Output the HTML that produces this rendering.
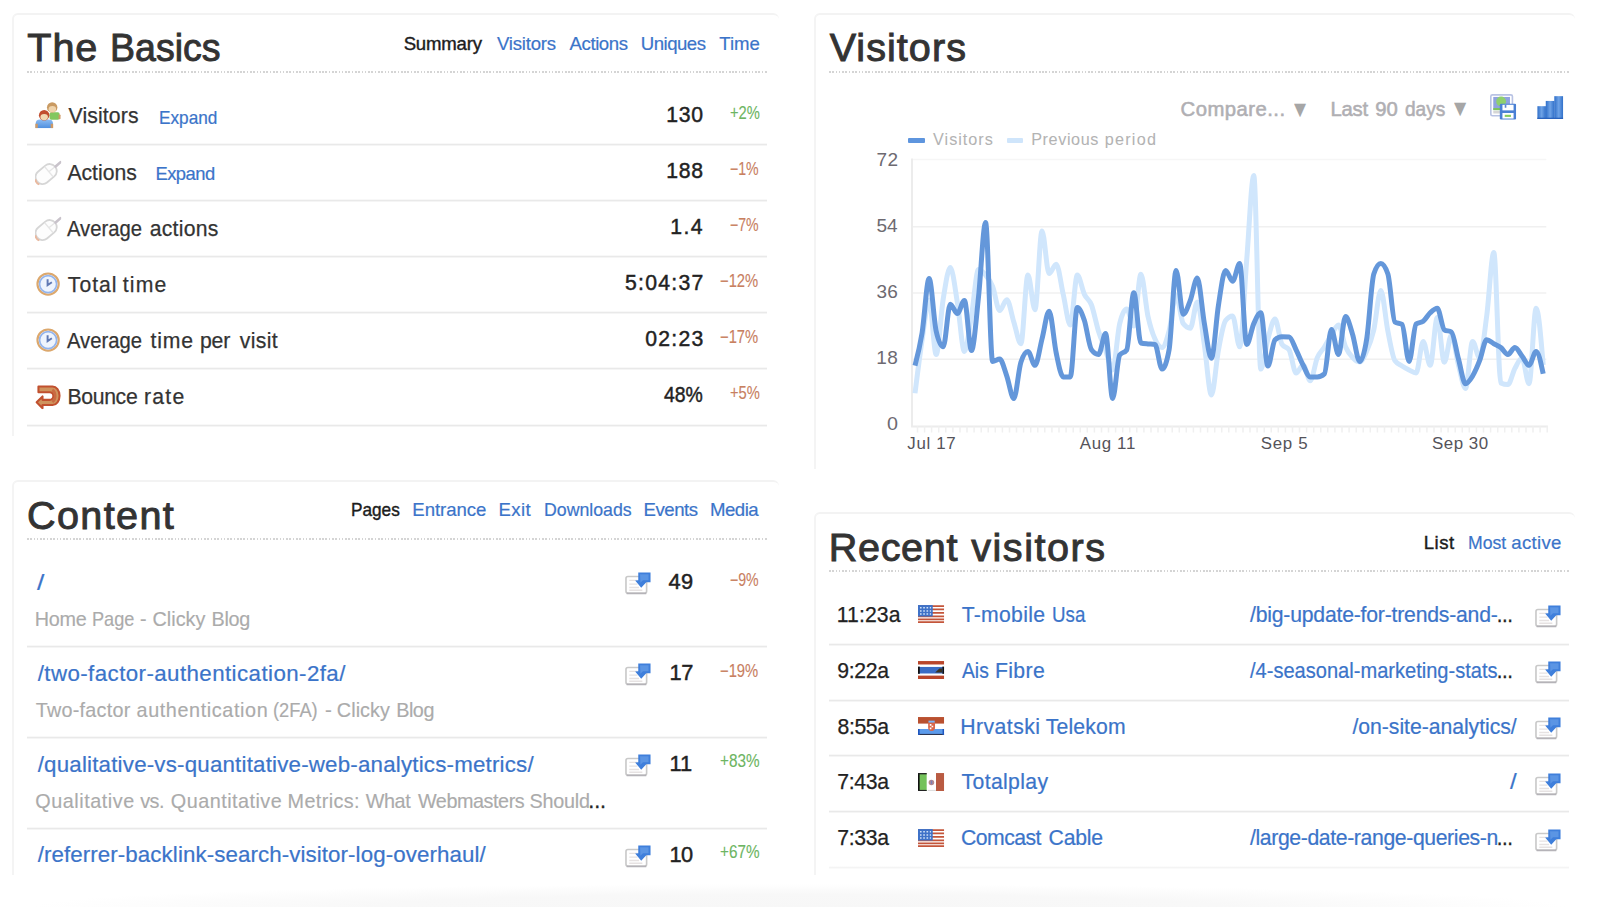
<!DOCTYPE html>
<html lang="en"><head><meta charset="utf-8"><title>Clicky dashboard</title>
<style>
*{box-sizing:content-box}
html,body{margin:0;padding:0}
body{width:1600px;height:907px;overflow:hidden;background:#fff;font-family:"Liberation Sans",Arial,sans-serif;position:relative;-webkit-font-smoothing:antialiased}
#foot{position:absolute;left:0;top:884px;width:1600px;height:23px;background:radial-gradient(ellipse 48% 100% at 50% 100%,#f7f7f7 0,#f8f8f8 55%,#fff 100%)}
.card{position:absolute;border-top:2px solid #f3f3f3;border-left:2px solid #f4f4f4;border-radius:6px 6px 0 0;background:#fff;margin:0}
.card>*,.card header>*,.card nav>*,.card ul,.card li,.card li>*,.card .chart>*,.card .ctl>*{position:absolute;margin:0;padding:0}
.card header,.card nav,.card ul,.card li,.card .chart,.card .ctl,.card .legend{left:0;top:0;width:0;height:0;list-style:none}
.card .legend>*,.card .axis>*{position:absolute;margin:0}
.card .axis{position:absolute;left:0;top:0}
.t{position:absolute;white-space:pre;line-height:1;font-weight:400;text-decoration:none;transform-origin:0 0;display:block;margin:0}
.g{position:absolute;left:0;top:0;width:0;height:0;margin:0;font-size:0;font-weight:400;text-decoration:none}
.dot{height:2px;background:repeating-linear-gradient(90deg,#cdcdcd 0 1.6px,rgba(255,255,255,0) 1.6px 3.28px);opacity:.85}
.sep{height:3px;background:linear-gradient(#f8f8f8 0 33%,#e9e9e9 33% 67%,#f5f5f5 67%)}
.sep.last{opacity:.5}
.ic{position:absolute;overflow:visible}
.sw{height:5.5px;border-radius:1px}
</style></head><body>

<svg width="0" height="0" style="position:absolute" aria-hidden="true"><defs>
<linearGradient id="gBlue" x1="0" y1="0" x2="0" y2="1"><stop offset="0" stop-color="#8dbcf2"/><stop offset="1" stop-color="#4f8fdf"/></linearGradient>
<linearGradient id="gBar" x1="0" y1="0" x2="1" y2="0"><stop offset="0" stop-color="#2f6fc9"/><stop offset=".5" stop-color="#6fa3e6"/><stop offset="1" stop-color="#2f6fc9"/></linearGradient>
<symbol id="i-users" viewBox="0 0 16 16">
 <rect x="8.9" y="6.2" width="6.1" height="4.6" rx="1" fill="#82c75f"/>
 <rect x="14.4" y="7.6" width="1.2" height="3" rx=".5" fill="#cf9a66"/>
 <circle cx="10.5" cy="3.3" r="3.2" fill="#c99a62"/>
 <ellipse cx="10.6" cy="4.4" rx="2.3" ry="1.9" fill="#efd3ab"/>
 <path d="M.4 16v-2.6q0-2.7 2.6-2.7h5.4q2.6 0 2.6 2.7V16z" fill="url(#gBlue)"/>
 <rect x=".2" y="13.3" width="1.5" height="2.7" fill="#cf9a66"/><rect x="9.6" y="13.3" width="1.5" height="2.7" fill="#cf9a66"/>
 <circle cx="5.6" cy="8.1" r="3.2" fill="#c14e2f"/>
 <ellipse cx="5.6" cy="9.2" rx="2.3" ry="1.9" fill="#f1d9b3"/>
</symbol>
<symbol id="i-mouse" viewBox="0 0 16 16">
 <g transform="rotate(-40 6.8 9.2)"><rect x="-.3" y="4.9" width="14.2" height="8.6" rx="4.2" fill="#fdfdfd" stroke="#d6d6d6" stroke-width="1.1"/><path d="M9 5.2v8M9 9.2h4.6" stroke="#e6e6e6" stroke-width=".8" fill="none"/></g>
 <path d="M12.6 4.6l3-2.7" stroke="#c9c3cb" stroke-width="1.6" stroke-linecap="round"/>
 <path d="M.2 12.4q.3 2.2 2.4 3.2" stroke="#e9b9a0" stroke-width="1.2" fill="none"/>
</symbol>
<symbol id="i-clock" viewBox="0 0 16 16">
 <circle cx="8" cy="8" r="6.5" fill="#eef4fd" stroke="#dca86d" stroke-width="1.3"/>
 <circle cx="8" cy="8" r="5.2" fill="none" stroke="#93b4ec" stroke-width="1"/>
 <path d="M7.7 5v3.6l2.6-1.7" stroke="#6079b4" stroke-width="1.2" fill="none"/>
</symbol>
<symbol id="i-bounce" viewBox="0 0 16 16">
 <path d="M2.1 2.1h8.6a4.3 5.7 0 0 1 0 11.4H4.6v1.9L1 11.8l3.6-3.6v2.1h4.3a2.3 2.35 0 0 0 0-4.7H2.1z" fill="#cf935d" stroke="#c1502f" stroke-width="1.25" stroke-linejoin="round"/>
 <path d="M10.6 4.2a3.3 4.2 0 0 1 0 7.4" fill="none" stroke="#c96a42" stroke-width="1.6"/>
</symbol>
<symbol id="i-page" viewBox="0 0 16 16">
 <rect x=".6" y="4.6" width="12.6" height="10.2" rx="1.2" fill="#fff" stroke="#c9c9c9" stroke-width="1"/>
 <path d="M1 14.9h12" stroke="#b5b3b8" stroke-width="1"/>
 <path d="M2.6 7h5M2.6 9.2h5M2.6 11.3h6M2.6 13h8" stroke="#e6e2e2" stroke-width=".8"/>
 <path d="M8.1 2.1h7.5v6h-2.6L9.9 11.4 6.2 7.1l1.9-.2z" fill="#3f7fdb"/>
 <path d="M9.2 3.2h5.2v3.6H11l-1.6 1.6z" fill="#6ea3ea" opacity=".6"/>
</symbol>
<symbol id="f-us" viewBox="0 0 16 11">
 <rect width="16" height="11" fill="#fff"/>
 <path d="M0 .6h16M0 2.7h16M0 4.8h16M0 6.9h16M0 8.7h16M0 10.4h16" stroke="#c4553a" stroke-width="1.1"/>
 <rect width="9" height="7" fill="#3f72c8"/>
 <path d="M1.2 1.6h6.8M1.2 3.6h6.8M1.2 5.5h6.8" stroke="#cfe0f6" stroke-width=".9" stroke-dasharray="1 1"/>
</symbol>
<symbol id="f-th" viewBox="0 0 16 11">
 <rect width="16" height="11" fill="#fff"/>
 <rect width="16" height="2.1" fill="#b9462b"/><rect y="8.9" width="16" height="2.1" fill="#b9462b"/>
 <rect y="3.6" width="16" height="4" fill="#3a6cc4"/>
 <rect y="3.4" width="1.1" height="4.4" fill="#111"/><rect x="14.9" y="3.4" width="1.1" height="4.4" fill="#111"/>
 <path d="M10.5 7l2.6-2.4h1.6V7z" fill="#3a3320"/>
</symbol>
<symbol id="f-hr" viewBox="0 0 16 11">
 <rect width="16" height="11" fill="#fff"/>
 <rect width="16" height="4" fill="#b9502f"/>
 <rect y="7.3" width="16" height="3.7" fill="#5b9aea"/>
 <rect y="10.3" width="16" height=".7" fill="#2b3550"/>
 <rect y="7.3" width="1" height="3.7" fill="#1f57c0"/><rect x="15" y="7.3" width="1" height="3.7" fill="#1f57c0"/>
 <path d="M6.2 3.4h4.2v3.3q0 1.5-2.1 1.9-2.1-.4-2.1-1.9z" fill="#d9664a"/>
 <rect x="6.4" y="2.2" width="3.8" height="1.2" fill="#7db4f5"/>
 <path d="M7.2 4.3h1v1h-1zM8.3 5.3h1v1h-1zM7.2 6.4h1v1h-1z" fill="#fff"/>
</symbol>
<symbol id="f-mx" viewBox="0 0 16 11">
 <rect width="16" height="11" fill="#fff"/>
 <rect width="5.3" height="11" fill="#74c25a"/>
 <rect width="1" height="11" fill="#111"/><rect width="5.3" height=".8" fill="#222"/><rect y="10.3" width="5.3" height=".7" fill="#222"/>
 <rect x="11" width="5" height="11" fill="#b95b42"/>
 <rect x="6" y="10.3" width="5" height=".7" fill="#ddd"/>
 <circle cx="8.2" cy="5.8" r="1.7" fill="#b58a8f"/>
 <rect x="7.8" y="4.6" width=".9" height="2.2" fill="#7a7fb8"/>
</symbol>
<symbol id="i-save" viewBox="0 0 16 16">
 <rect x=".5" y=".5" width="13.2" height="12.8" rx="1" fill="#fff" stroke="#b9c3e4" stroke-width="1"/>
 <rect x="2" y="1.8" width="10.2" height="8" fill="#8fa3df"/>
 <circle cx="6.8" cy="4.6" r="3" fill="#8fd06e"/>
 <rect x="2" y="8.6" width="10.2" height="1.3" fill="#7cc45a"/>
 <rect x="2" y="10.3" width="10.2" height="1.6" fill="#d6d6d6"/>
 <rect x="6" y="6" width="10" height="9.6" rx=".8" fill="#4a80d4"/>
 <rect x="7.6" y="6.6" width="6.8" height="3.4" fill="#fff"/>
 <rect x="9" y="6.6" width="1" height="1.8" fill="#5d86d0"/>
 <rect x="7.6" y="11.6" width="6.8" height="3.4" fill="#fff"/>
 <rect x="9" y="12.7" width="3.8" height="1.3" fill="#86cc5d"/>
</symbol>
<symbol id="i-bars" viewBox="0 0 16 14">
 <rect x=".2" y="6.2" width="5.2" height="7.8" fill="url(#gBar)"/>
 <rect x="5.3" y="3" width="5.3" height="11" fill="url(#gBar)"/>
 <rect x="10.5" y=".1" width="5.4" height="13.9" fill="url(#gBar)"/>
 <rect x=".2" y="13.2" width="15.7" height=".9" fill="#2a63bd"/>
</symbol>
</defs></svg>
<main>
<section class="card" id="basics" style="left:12px;top:13px;width:765px;height:421px">
<header><h2 class="g title"><span class="t w" style="left:13.37px;top:13.30px;font-size:39.6px;color:#333;letter-spacing:0.899px;-webkit-text-stroke-width:0.95px;">The</span> <span class="t w" style="left:95.63px;top:13.30px;font-size:39.6px;color:#333;transform:scaleX(0.9486);-webkit-text-stroke-width:0.95px;">Basics</span></h2><nav><b class="t tab on" style="left:389.63px;top:19.60px;font-size:18.6px;color:#1c1c1c;letter-spacing:-0.188px;-webkit-text-stroke-width:0.4px;">Summary</b><a class="t tab" href="#" style="left:482.96px;top:19.60px;font-size:18.6px;color:#3b74c9;letter-spacing:-0.206px;-webkit-text-stroke-width:0.2px;">Visitors</a><a class="t tab" href="#" style="left:555.56px;top:19.60px;font-size:18.6px;color:#3b74c9;letter-spacing:-0.425px;-webkit-text-stroke-width:0.2px;">Actions</a><a class="t tab" href="#" style="left:626.75px;top:19.60px;font-size:18.6px;color:#3b74c9;letter-spacing:-0.502px;-webkit-text-stroke-width:0.2px;">Uniques</a><a class="t tab" href="#" style="left:705.27px;top:19.60px;font-size:18.6px;color:#3b74c9;letter-spacing:-0.021px;-webkit-text-stroke-width:0.2px;">Time</a></nav></header>
<div class="dot" style="left:13.0px;top:56.0px;width:740.5px"></div>
<ul>
<li><svg class="ic" style="left:21.3px;top:87.4px;width:26.2px;height:26.2px" viewBox="0 0 16 16"><use href="#i-users"/></svg><span class="t lab" style="left:54.62px;top:90.40px;font-size:21.2px;color:#333;letter-spacing:0.112px;-webkit-text-stroke-width:0.25px;">Visitors</span><a class="t exp" href="#" style="left:144.68px;top:93.80px;font-size:18.4px;color:#3b74c9;transform:scaleX(0.9359);-webkit-text-stroke-width:0.2px;">Expand</a><span class="t num" style="left:652.31px;top:88.80px;font-size:21.2px;color:#222;letter-spacing:0.657px;-webkit-text-stroke-width:0.45px;">130</span><span class="t pct" style="left:715.68px;top:88.90px;font-size:18px;color:#6db562;transform:scaleX(0.8187);-webkit-text-stroke-width:0.12px;">+2%</span><div class="sep" style="left:13.0px;top:128.0px;width:740.0px"></div></li>
<li><svg class="ic" style="left:21.3px;top:143.5px;width:26.2px;height:26.2px" viewBox="0 0 16 16"><use href="#i-mouse"/></svg><span class="t lab" style="left:53.44px;top:146.50px;font-size:21.2px;color:#333;letter-spacing:-0.031px;-webkit-text-stroke-width:0.25px;">Actions</span><a class="t exp" href="#" style="left:141.42px;top:149.90px;font-size:18.4px;color:#3b74c9;letter-spacing:-0.499px;-webkit-text-stroke-width:0.2px;">Expand</a><span class="t num" style="left:652.31px;top:144.90px;font-size:21.2px;color:#222;letter-spacing:0.670px;-webkit-text-stroke-width:0.45px;">188</span><span class="t pct" style="left:715.61px;top:145.00px;font-size:18px;color:#c8805f;transform:scaleX(0.7856);-webkit-text-stroke-width:0.12px;">−1%</span><div class="sep" style="left:13.0px;top:184.1px;width:740.0px"></div></li>
<li><svg class="ic" style="left:21.3px;top:199.6px;width:26.2px;height:26.2px" viewBox="0 0 16 16"><use href="#i-mouse"/></svg><span class="g lab"><span class="t w" style="left:53.44px;top:202.60px;font-size:21.2px;color:#333;transform:scaleX(0.9545);-webkit-text-stroke-width:0.25px;">Average</span> <span class="t w" style="left:135.67px;top:202.60px;font-size:21.2px;color:#333;letter-spacing:0.272px;-webkit-text-stroke-width:0.25px;">actions</span></span><span class="t num" style="left:656.31px;top:201.00px;font-size:21.2px;color:#222;letter-spacing:1.452px;-webkit-text-stroke-width:0.45px;">1.4</span><span class="t pct" style="left:715.61px;top:201.10px;font-size:18px;color:#c8805f;transform:scaleX(0.7856);-webkit-text-stroke-width:0.12px;">−7%</span><div class="sep" style="left:13.0px;top:240.2px;width:740.0px"></div></li>
<li><svg class="ic" style="left:21.3px;top:255.7px;width:26.2px;height:26.2px" viewBox="0 0 16 16"><use href="#i-clock"/></svg><span class="g lab"><span class="t w" style="left:53.86px;top:258.70px;font-size:21.2px;color:#333;letter-spacing:0.983px;-webkit-text-stroke-width:0.25px;">Total</span> <span class="t w" style="left:108.86px;top:258.70px;font-size:21.2px;color:#333;letter-spacing:1.091px;-webkit-text-stroke-width:0.25px;">time</span></span><span class="t num" style="left:610.89px;top:257.10px;font-size:21.2px;color:#222;letter-spacing:1.293px;-webkit-text-stroke-width:0.45px;">5:04:37</span><span class="t pct" style="left:706.01px;top:257.20px;font-size:18px;color:#c8805f;transform:scaleX(0.8222);-webkit-text-stroke-width:0.12px;">−12%</span><div class="sep" style="left:13.0px;top:296.3px;width:740.0px"></div></li>
<li><svg class="ic" style="left:21.3px;top:311.8px;width:26.2px;height:26.2px" viewBox="0 0 16 16"><use href="#i-clock"/></svg><span class="g lab"><span class="t w" style="left:53.44px;top:314.80px;font-size:21.2px;color:#333;transform:scaleX(0.9545);-webkit-text-stroke-width:0.25px;">Average</span> <span class="t w" style="left:136.38px;top:314.80px;font-size:21.2px;color:#333;letter-spacing:0.916px;-webkit-text-stroke-width:0.25px;">time</span> <span class="t w" style="left:185.93px;top:314.80px;font-size:21.2px;color:#333;letter-spacing:-0.164px;-webkit-text-stroke-width:0.25px;">per</span> <span class="t w" style="left:225.76px;top:314.80px;font-size:21.2px;color:#333;letter-spacing:0.359px;-webkit-text-stroke-width:0.25px;">visit</span></span><span class="t num" style="left:631.26px;top:313.20px;font-size:21.2px;color:#222;letter-spacing:1.233px;-webkit-text-stroke-width:0.45px;">02:23</span><span class="t pct" style="left:706.01px;top:313.30px;font-size:18px;color:#c8805f;transform:scaleX(0.8222);-webkit-text-stroke-width:0.12px;">−17%</span><div class="sep" style="left:13.0px;top:352.4px;width:740.0px"></div></li>
<li><svg class="ic" style="left:21.3px;top:367.9px;width:26.2px;height:26.2px" viewBox="0 0 16 16"><use href="#i-bounce"/></svg><span class="g lab"><span class="t w" style="left:53.42px;top:370.90px;font-size:21.2px;color:#333;letter-spacing:-0.317px;-webkit-text-stroke-width:0.25px;">Bounce</span> <span class="t w" style="left:129.89px;top:370.90px;font-size:21.2px;color:#333;letter-spacing:1.309px;-webkit-text-stroke-width:0.25px;">rate</span></span><span class="t num" style="left:649.92px;top:369.30px;font-size:21.2px;color:#222;transform:scaleX(0.9171);-webkit-text-stroke-width:0.45px;">48%</span><span class="t pct" style="left:715.68px;top:369.40px;font-size:18px;color:#c8805f;transform:scaleX(0.8187);-webkit-text-stroke-width:0.12px;">+5%</span><div class="sep" style="left:13.0px;top:408.5px;width:740.0px"></div></li>
</ul></section>
<section class="card" id="visitors" style="left:814px;top:13px;width:759px;height:454px">
<header><h2 class="t title" style="left:13.64px;top:13.30px;font-size:39.6px;color:#333;letter-spacing:1.038px;-webkit-text-stroke-width:0.95px;">Visitors</h2></header>
<div class="dot" style="left:13.0px;top:56.0px;width:740.5px"></div>
<div class="ctl"><span class="t ctl" style="left:364.61px;top:83.80px;font-size:20.3px;color:#b0afb3;letter-spacing:0.463px;-webkit-text-stroke-width:0.55px;">Compare...</span><span class="t tri" style="left:478.36px;top:86.00px;font-size:17.5px;color:#a6a6a6;transform:scaleX(0.8943);font-family:'DejaVu Sans','Liberation Sans',sans-serif;">▼</span><span class="g ctl"><span class="t w" style="left:514.51px;top:83.80px;font-size:20.3px;color:#b0afb3;letter-spacing:-0.269px;-webkit-text-stroke-width:0.55px;">Last</span> <span class="t w" style="left:559.32px;top:83.80px;font-size:20.3px;color:#b0afb3;letter-spacing:-0.209px;-webkit-text-stroke-width:0.55px;">90</span> <span class="t w" style="left:588.71px;top:83.80px;font-size:20.3px;color:#b0afb3;transform:scaleX(0.9411);-webkit-text-stroke-width:0.55px;">days</span></span><span class="t tri" style="left:637.52px;top:85.00px;font-size:17.5px;color:#a6a6a6;transform:scaleX(0.9087);font-family:'DejaVu Sans','Liberation Sans',sans-serif;">▼</span><svg class="ic" style="left:674.4px;top:79.2px;width:26.2px;height:26.2px" viewBox="0 0 16 16"><use href="#i-save"/></svg><svg class="ic" style="left:720.6px;top:80.8px;width:26.4px;height:23.0px" viewBox="0 0 16 14"><use href="#i-bars"/></svg></div>
<div class="legend"><i class="sw" style="left:92.0px;top:122.5px;width:16.5px;background:#5e95de"></i><span class="t leg" style="left:117.12px;top:116.10px;font-size:16.2px;color:#b3b3b3;letter-spacing:0.986px;-webkit-text-stroke-width:0.05px;">Visitors</span><i class="sw" style="left:191.0px;top:122.5px;width:15.5px;background:#cfe5fb"></i><span class="g leg"><span class="t w" style="left:215.19px;top:116.10px;font-size:16.2px;color:#b3b3b3;letter-spacing:0.609px;-webkit-text-stroke-width:0.05px;">Previous</span> <span class="t w" style="left:288.71px;top:116.10px;font-size:16.2px;color:#b3b3b3;letter-spacing:1.236px;-webkit-text-stroke-width:0.05px;">period</span></span></div>
<div class="chart"><svg class="ic" style="left:54px;top:135px;width:700px;height:300px" viewBox="0 0 700 300"><path d="M42.0 9.60H676.3" stroke="#f6f6f6" stroke-width="1.5"/><path d="M42.0 76.80H676.3" stroke="#f0f0f0" stroke-width="1.5"/><path d="M42.0 143.00H676.3" stroke="#f0f0f0" stroke-width="1.5"/><path d="M42.0 209.30H676.3" stroke="#f0f0f0" stroke-width="1.5"/><path d="M42.0 8.50V276.55H677.9" stroke="#ececec" stroke-width="1.9" fill="none"/><path d="M47.5 276.2v6.2M54.6 276.2v6.2M61.6 276.2v6.2M68.7 276.2v6.2M75.8 276.2v6.2M82.9 276.2v6.2M90.0 276.2v6.2M97.0 276.2v6.2M104.1 276.2v6.2M111.2 276.2v6.2M118.2 276.2v6.2M125.3 276.2v6.2M132.4 276.2v6.2M139.5 276.2v6.2M146.5 276.2v6.2M153.6 276.2v6.2M160.7 276.2v6.2M167.8 276.2v6.2M174.8 276.2v6.2M181.9 276.2v6.2M189.0 276.2v6.2M196.1 276.2v6.2M203.2 276.2v6.2M210.2 276.2v6.2M217.3 276.2v6.2M224.4 276.2v6.2M231.5 276.2v6.2M238.5 276.2v6.2M245.6 276.2v6.2M252.7 276.2v6.2M259.8 276.2v6.2M266.8 276.2v6.2M273.9 276.2v6.2M281.0 276.2v6.2M288.0 276.2v6.2M295.1 276.2v6.2M302.2 276.2v6.2M309.3 276.2v6.2M316.3 276.2v6.2M323.4 276.2v6.2M330.5 276.2v6.2M337.6 276.2v6.2M344.7 276.2v6.2M351.7 276.2v6.2M358.8 276.2v6.2M365.9 276.2v6.2M373.0 276.2v6.2M380.0 276.2v6.2M387.1 276.2v6.2M394.2 276.2v6.2M401.2 276.2v6.2M408.3 276.2v6.2M415.4 276.2v6.2M422.5 276.2v6.2M429.5 276.2v6.2M436.6 276.2v6.2M443.7 276.2v6.2M450.8 276.2v6.2M457.8 276.2v6.2M464.9 276.2v6.2M472.0 276.2v6.2M479.1 276.2v6.2M486.2 276.2v6.2M493.2 276.2v6.2M500.3 276.2v6.2M507.4 276.2v6.2M514.5 276.2v6.2M521.5 276.2v6.2M528.6 276.2v6.2M535.7 276.2v6.2M542.8 276.2v6.2M549.8 276.2v6.2M556.9 276.2v6.2M564.0 276.2v6.2M571.1 276.2v6.2M578.1 276.2v6.2M585.2 276.2v6.2M592.3 276.2v6.2M599.3 276.2v6.2M606.4 276.2v6.2M613.5 276.2v6.2M620.6 276.2v6.2M627.7 276.2v6.2M634.7 276.2v6.2M641.8 276.2v6.2M648.9 276.2v6.2M656.0 276.2v6.2M663.0 276.2v6.2M670.1 276.2v6.2M677.2 276.2v6.2" stroke="#f0f0f0" stroke-width="1.5"/><path d="M45.0,243.3C47.4,224.4 49.7,205.6 52.1,190.0C54.4,174.4 56.8,150.0 59.1,150.0C61.5,150.0 63.8,204.5 66.2,204.5C68.5,204.5 70.9,163.5 73.2,149.0C75.6,134.5 77.9,117.5 80.3,117.5C82.6,117.5 85.0,138.0 87.3,152.0C89.7,166.0 92.1,201.4 94.4,201.4C96.8,201.4 99.1,179.5 101.5,165.9C103.8,152.2 106.2,119.5 108.5,119.5C110.9,119.5 113.2,122.2 115.6,125.0C117.9,127.8 120.3,130.6 122.6,136.5C125.0,142.4 127.3,160.5 129.7,160.5C132.0,160.5 134.4,149.7 136.8,149.7C139.1,149.7 141.5,164.7 143.8,172.0C146.2,179.3 148.5,193.7 150.9,193.7C153.2,193.7 155.6,125.0 157.9,125.0C160.3,125.0 162.6,159.7 165.0,159.7C167.3,159.7 169.7,81.0 172.0,81.0C174.4,81.0 176.7,123.5 179.1,123.5C181.5,123.5 183.8,114.2 186.2,114.2C188.5,114.2 190.9,134.1 193.2,144.3C195.6,154.5 197.9,175.1 200.3,175.1C202.6,175.1 205.0,125.0 207.3,125.0C209.7,125.0 212.0,139.3 214.4,144.3C216.7,149.3 219.1,148.8 221.5,155.0C223.8,161.2 226.2,173.8 228.5,181.3C230.9,188.8 233.2,193.6 235.6,200.0C237.9,206.4 240.3,220.0 242.6,220.0C245.0,220.0 247.3,183.3 249.7,173.6C252.0,163.9 254.4,159.0 256.7,159.0C259.1,159.0 261.4,176.0 263.8,176.0C266.2,176.0 268.5,124.3 270.9,124.3C273.2,124.3 275.6,155.1 277.9,165.9C280.3,176.7 282.6,183.7 285.0,189.0C287.3,194.3 289.7,197.5 292.0,197.5C294.4,197.5 296.7,189.8 299.1,181.0C301.4,172.2 303.8,145.0 306.1,145.0C308.5,145.0 310.9,170.5 313.2,173.6C315.6,176.7 317.9,178.2 320.3,178.2C322.6,178.2 325.0,152.0 327.3,152.0C329.7,152.0 332.0,179.5 334.4,195.0C336.7,210.5 339.1,245.0 341.4,245.0C343.8,245.0 346.1,212.2 348.5,199.8C350.8,187.4 353.2,173.6 355.6,170.5C357.9,167.4 360.3,165.9 362.6,165.9C365.0,165.9 367.3,196.8 369.7,196.8C372.0,196.8 374.4,138.6 376.7,110.0C379.1,81.4 381.4,25.5 383.8,25.5C386.1,25.5 388.5,219.1 390.8,219.1C393.2,219.1 395.5,197.4 397.9,189.0C400.3,180.6 402.6,169.0 405.0,169.0C407.3,169.0 409.7,190.8 412.0,194.4C414.4,198.0 416.7,196.2 419.1,199.8C421.4,203.4 423.8,223.0 426.1,223.0C428.5,223.0 430.8,215.0 433.2,215.0C435.5,215.0 437.9,230.7 440.2,230.7C442.6,230.7 445.0,213.2 447.3,207.6C449.7,202.0 452.0,200.8 454.4,197.0C456.7,193.2 459.1,188.7 461.4,185.0C463.8,181.3 466.1,175.0 468.5,175.0C470.8,175.0 473.2,191.4 475.5,196.8C477.9,202.2 480.2,205.1 482.6,207.6C484.9,210.1 487.3,212.0 489.7,212.0C492.0,212.0 494.4,206.4 496.7,201.0C499.1,195.6 501.4,189.9 503.8,179.8C506.1,169.7 508.5,140.4 510.8,140.4C513.2,140.4 515.5,169.6 517.9,181.3C520.2,193.0 522.6,207.2 524.9,210.7C527.3,214.2 529.6,214.4 532.0,216.0C534.4,217.6 536.7,218.8 539.1,220.0C541.4,221.2 543.8,223.0 546.1,223.0C548.5,223.0 550.8,191.4 553.2,191.4C555.5,191.4 557.9,215.3 560.2,215.3C562.6,215.3 564.9,167.4 567.3,167.4C569.6,167.4 572.0,212.2 574.3,212.2C576.7,212.2 579.1,185.0 581.4,185.0C583.8,185.0 586.1,206.1 588.5,215.0C590.8,223.9 593.2,238.4 595.5,238.4C597.9,238.4 600.2,191.4 602.6,191.4C604.9,191.4 607.3,208.0 609.6,208.0C612.0,208.0 614.3,183.6 616.7,166.0C619.1,148.4 621.4,102.4 623.8,102.4C626.1,102.4 628.5,231.9 630.8,233.0C633.2,234.1 635.5,234.6 637.9,234.6C640.2,234.6 642.6,222.8 644.9,218.4C647.3,214.0 649.6,208.0 652.0,208.0C654.3,208.0 656.7,233.8 659.0,233.8C661.4,233.8 663.8,158.2 666.1,158.2C668.5,158.2 670.8,186.6 673.2,215.0" fill="none" stroke="#d0e6fc" stroke-width="5" stroke-linejoin="round" stroke-linecap="butt"/><path d="M45.0,215.7C47.4,206.6 49.7,197.4 52.1,182.9C54.4,168.4 56.8,128.5 59.1,128.5C61.5,128.5 63.8,171.0 66.2,181.3C68.5,191.6 70.9,196.8 73.2,196.8C75.6,196.8 77.9,154.3 80.3,154.3C82.6,154.3 85.0,163.6 87.3,163.6C89.7,163.6 92.1,150.4 94.4,150.4C96.8,150.4 99.1,200.6 101.5,200.6C103.8,200.6 106.2,168.4 108.5,147.0C110.9,125.7 113.2,72.5 115.6,72.5C117.9,72.5 120.3,211.4 122.6,211.4C125.0,211.4 127.3,209.1 129.7,209.1C132.0,209.1 134.4,219.5 136.8,226.1C139.1,232.7 141.5,248.5 143.8,248.5C146.2,248.5 148.5,219.4 150.9,212.2C153.2,205.0 155.6,201.4 157.9,201.4C160.3,201.4 162.6,215.3 165.0,215.3C167.3,215.3 169.7,198.0 172.0,189.0C174.4,180.0 176.7,161.2 179.1,161.2C181.5,161.2 183.8,191.9 186.2,202.9C188.5,213.8 190.9,226.9 193.2,226.9C195.6,226.9 197.9,226.9 200.3,226.9C202.6,226.9 205.0,157.4 207.3,157.4C209.7,157.4 212.0,163.4 214.4,170.5C216.7,177.6 219.1,196.7 221.5,199.8C223.8,202.9 226.2,204.5 228.5,204.5C230.9,204.5 233.2,183.6 235.6,183.6C237.9,183.6 240.3,248.5 242.6,248.5C245.0,248.5 247.3,208.3 249.7,205.0C252.0,201.7 254.4,203.3 256.7,200.0C259.1,196.7 261.4,142.7 263.8,142.7C266.2,142.7 268.5,192.4 270.9,193.0C273.2,193.6 275.6,193.7 277.9,193.9C280.3,194.1 282.6,194.1 285.0,194.4C287.3,194.7 289.7,219.1 292.0,219.1C294.4,219.1 296.7,212.7 299.1,199.8C301.4,186.9 303.8,120.4 306.1,120.4C308.5,120.4 310.9,164.3 313.2,164.3C315.6,164.3 317.9,156.4 320.3,150.4C322.6,144.4 325.0,128.1 327.3,128.1C329.7,128.1 332.0,160.2 334.4,173.6C336.7,187.0 339.1,208.3 341.4,208.3C343.8,208.3 346.1,169.6 348.5,155.0C350.8,140.3 353.2,120.4 355.6,120.4C357.9,120.4 360.3,131.2 362.6,131.2C365.0,131.2 367.3,113.5 369.7,113.5C372.0,113.5 374.4,194.4 376.7,194.4C379.1,194.4 381.4,178.9 383.8,173.6C386.1,168.3 388.5,162.8 390.8,162.8C393.2,162.8 395.5,216.1 397.9,216.1C400.3,216.1 402.6,191.9 405.0,189.8C407.3,187.7 409.7,186.7 412.0,186.7C414.4,186.7 416.7,186.8 419.1,187.0C421.4,187.2 423.8,195.1 426.1,199.8C428.5,204.5 430.8,210.8 433.2,215.3C435.5,219.8 437.9,226.9 440.2,226.9C442.6,226.9 445.0,226.9 447.3,226.9C449.7,226.9 452.0,225.9 454.4,223.8C456.7,221.7 459.1,179.5 461.4,179.5C463.8,179.5 466.1,204.5 468.5,204.5C470.8,204.5 473.2,166.6 475.5,166.6C477.9,166.6 480.2,176.9 482.6,184.4C484.9,191.9 487.3,211.4 489.7,211.4C492.0,211.4 494.4,203.6 496.7,189.0C499.1,174.4 501.4,131.0 503.8,124.0C506.1,117.0 508.5,113.5 510.8,113.5C513.2,113.5 515.5,117.0 517.9,124.0C520.2,131.0 522.6,170.4 524.9,172.0C527.3,173.6 529.6,172.8 532.0,174.4C534.4,176.0 536.7,211.4 539.1,211.4C541.4,211.4 543.8,175.8 546.1,174.0C548.5,172.2 550.8,173.1 553.2,171.3C555.5,169.5 557.9,165.0 560.2,162.8C562.6,160.6 564.9,158.2 567.3,158.2C569.6,158.2 572.0,178.3 574.3,179.8C576.7,181.3 579.1,180.5 581.4,182.0C583.8,183.5 586.1,200.4 588.5,209.0C590.8,217.6 593.2,233.8 595.5,233.8C597.9,233.8 600.2,229.9 602.6,226.0C604.9,222.1 607.3,216.7 609.6,210.7C612.0,204.7 614.3,189.8 616.7,189.8C619.1,189.8 621.4,192.4 623.8,193.7C626.1,195.0 628.5,195.7 630.8,197.5C633.2,199.3 635.5,204.5 637.9,204.5C640.2,204.5 642.6,197.5 644.9,197.5C647.3,197.5 649.6,203.0 652.0,206.0C654.3,209.0 656.7,215.3 659.0,215.3C661.4,215.3 663.8,201.4 666.1,201.4C668.5,201.4 670.8,212.6 673.2,223.8" fill="none" stroke="#6497da" stroke-width="5" stroke-linejoin="round" stroke-linecap="butt"/></svg>
<div class="axis"><span class="t yl" style="left:60.49px;top:135.20px;font-size:19px;color:#6d6a71;letter-spacing:0.355px;">72</span><span class="t yl" style="left:60.49px;top:201.40px;font-size:19px;color:#6d6a71;letter-spacing:0.012px;">54</span><span class="t yl" style="left:60.58px;top:267.40px;font-size:19px;color:#6d6a71;letter-spacing:0.170px;">36</span><span class="t yl" style="left:60.21px;top:333.20px;font-size:19px;color:#6d6a71;letter-spacing:0.552px;">18</span><span class="t yl" style="left:70.61px;top:399.30px;font-size:19px;color:#6d6a71;transform:scaleX(1.0368);">0</span><span class="g xl"><span class="t w" style="left:91.34px;top:420.80px;font-size:16.9px;color:#55535a;letter-spacing:0.605px;">Jul</span> <span class="t w" style="left:120.21px;top:420.80px;font-size:16.9px;color:#55535a;letter-spacing:0.613px;">17</span></span><span class="t xl" style="left:263.86px;top:420.80px;font-size:16.9px;color:#55535a;letter-spacing:0.627px;">Aug 11</span><span class="t xl" style="left:444.83px;top:420.80px;font-size:16.9px;color:#55535a;letter-spacing:0.686px;">Sep 5</span><span class="t xl" style="left:616.00px;top:420.80px;font-size:16.9px;color:#55535a;letter-spacing:0.509px;">Sep 30</span></div></div>
</section>
<section class="card" id="content" style="left:12px;top:480px;width:765px;height:393px">
<header><h2 class="t title" style="left:13.04px;top:13.50px;font-size:39.6px;color:#333;letter-spacing:1.347px;-webkit-text-stroke-width:0.95px;">Content</h2><nav><b class="t tab on" style="left:337.07px;top:19.00px;font-size:18.6px;color:#1c1c1c;transform:scaleX(0.9253);-webkit-text-stroke-width:0.4px;">Pages</b><a class="t tab" href="#" style="left:398.36px;top:19.00px;font-size:18.6px;color:#3b74c9;letter-spacing:-0.049px;-webkit-text-stroke-width:0.2px;">Entrance</a><a class="t tab" href="#" style="left:484.56px;top:19.00px;font-size:18.6px;color:#3b74c9;letter-spacing:0.339px;-webkit-text-stroke-width:0.2px;">Exit</a><a class="t tab" href="#" style="left:529.75px;top:19.00px;font-size:18.6px;color:#3b74c9;transform:scaleX(0.9530);-webkit-text-stroke-width:0.2px;">Downloads</a><a class="t tab" href="#" style="left:629.56px;top:19.00px;font-size:18.6px;color:#3b74c9;letter-spacing:-0.465px;-webkit-text-stroke-width:0.2px;">Events</a><a class="t tab" href="#" style="left:695.95px;top:19.00px;font-size:18.6px;color:#3b74c9;letter-spacing:-0.488px;-webkit-text-stroke-width:0.2px;">Media</a></nav></header>
<div class="dot" style="left:13.0px;top:56.2px;width:740.5px"></div>
<ul>
<li><a class="t url" href="#" style="left:22.98px;top:89.90px;font-size:22.3px;color:#3b74c9;transform:scaleX(1.1879);-webkit-text-stroke-width:0.22px;">/</a><span class="g desc"><span class="t w" style="left:20.75px;top:128.00px;font-size:19.8px;color:#ababab;letter-spacing:-0.290px;-webkit-text-stroke-width:0.15px;">Home</span> <span class="t w" style="left:78.22px;top:128.00px;font-size:19.8px;color:#ababab;transform:scaleX(0.9175);-webkit-text-stroke-width:0.15px;">Page</span> <span class="t w" style="left:125.72px;top:128.00px;font-size:19.8px;color:#ababab;transform:scaleX(0.9928);-webkit-text-stroke-width:0.15px;">-</span> <span class="t w" style="left:138.49px;top:128.00px;font-size:19.8px;color:#ababab;letter-spacing:0.038px;-webkit-text-stroke-width:0.15px;">Clicky</span> <span class="t w" style="left:197.58px;top:128.00px;font-size:19.8px;color:#ababab;letter-spacing:-0.322px;-webkit-text-stroke-width:0.15px;">Blog</span></span><svg class="ic" style="left:611.0px;top:87.4px;width:26.2px;height:26.2px" viewBox="0 0 16 16"><use href="#i-page"/></svg><span class="t num" style="left:654.52px;top:89.20px;font-size:21.8px;color:#222;letter-spacing:0.450px;-webkit-text-stroke-width:0.45px;">49</span><span class="t pct" style="left:715.61px;top:88.80px;font-size:18px;color:#c8805f;transform:scaleX(0.7856);-webkit-text-stroke-width:0.12px;">−9%</span><div class="sep" style="left:13.0px;top:163.0px;width:740.0px"></div></li>
<li><a class="t url" href="#" style="left:23.69px;top:180.70px;font-size:22.3px;color:#3b74c9;letter-spacing:0.423px;-webkit-text-stroke-width:0.22px;">/two-factor-authentication-2fa/</a><span class="g desc"><span class="t w" style="left:21.66px;top:218.80px;font-size:19.8px;color:#ababab;letter-spacing:0.259px;-webkit-text-stroke-width:0.15px;">Two-factor</span> <span class="t w" style="left:122.54px;top:218.80px;font-size:19.8px;color:#ababab;letter-spacing:0.609px;-webkit-text-stroke-width:0.15px;">authentication</span> <span class="t w" style="left:259.31px;top:218.80px;font-size:19.8px;color:#ababab;transform:scaleX(0.9244);-webkit-text-stroke-width:0.15px;">(2FA)</span> <span class="t w" style="left:311.03px;top:218.80px;font-size:19.8px;color:#ababab;transform:scaleX(1.0386);-webkit-text-stroke-width:0.15px;">-</span> <span class="t w" style="left:322.84px;top:218.80px;font-size:19.8px;color:#ababab;letter-spacing:0.062px;-webkit-text-stroke-width:0.15px;">Clicky</span> <span class="t w" style="left:382.16px;top:218.80px;font-size:19.8px;color:#ababab;letter-spacing:-0.453px;-webkit-text-stroke-width:0.15px;">Blog</span></span><svg class="ic" style="left:611.0px;top:178.2px;width:26.2px;height:26.2px" viewBox="0 0 16 16"><use href="#i-page"/></svg><span class="t num" style="left:655.42px;top:180.00px;font-size:21.8px;color:#222;letter-spacing:-0.354px;-webkit-text-stroke-width:0.45px;">17</span><span class="t pct" style="left:706.01px;top:179.60px;font-size:18px;color:#c8805f;transform:scaleX(0.8222);-webkit-text-stroke-width:0.12px;">−19%</span><div class="sep" style="left:13.0px;top:253.8px;width:740.0px"></div></li>
<li><a class="t url" href="#" style="left:23.69px;top:271.50px;font-size:22.3px;color:#3b74c9;letter-spacing:0.204px;-webkit-text-stroke-width:0.22px;">/qualitative-vs-quantitative-web-analytics-metrics/</a><span class="g desc"><span class="t w" style="left:21.36px;top:309.60px;font-size:19.8px;color:#ababab;letter-spacing:0.538px;-webkit-text-stroke-width:0.15px;">Qualitative</span> <span class="t w" style="left:126.14px;top:309.60px;font-size:19.8px;color:#ababab;letter-spacing:-0.506px;-webkit-text-stroke-width:0.15px;">vs.</span> <span class="t w" style="left:156.85px;top:309.60px;font-size:19.8px;color:#ababab;letter-spacing:0.481px;-webkit-text-stroke-width:0.15px;">Quantitative</span> <span class="t w" style="left:273.54px;top:309.60px;font-size:19.8px;color:#ababab;letter-spacing:0.388px;-webkit-text-stroke-width:0.15px;">Metrics:</span> <span class="t w" style="left:351.83px;top:309.60px;font-size:19.8px;color:#ababab;letter-spacing:-0.455px;-webkit-text-stroke-width:0.15px;">What</span> <span class="t w" style="left:404.01px;top:309.60px;font-size:19.8px;color:#ababab;letter-spacing:-0.441px;-webkit-text-stroke-width:0.15px;">Webmasters</span> <span class="t w" style="left:515.59px;top:309.60px;font-size:19.8px;color:#ababab;letter-spacing:-0.252px;-webkit-text-stroke-width:0.15px;">Should</span></span><span class="t ell" style="left:574.48px;top:309.60px;font-size:19.8px;color:#222;letter-spacing:0.426px;-webkit-text-stroke-width:0.45px;">...</span><svg class="ic" style="left:611.0px;top:269.0px;width:26.2px;height:26.2px" viewBox="0 0 16 16"><use href="#i-page"/></svg><span class="t num" style="left:655.42px;top:270.80px;font-size:21.8px;color:#222;letter-spacing:0.056px;-webkit-text-stroke-width:0.45px;">11</span><span class="t pct" style="left:706.10px;top:270.40px;font-size:18px;color:#6db562;transform:scaleX(0.8494);-webkit-text-stroke-width:0.12px;">+83%</span><div class="sep" style="left:13.0px;top:344.6px;width:740.0px"></div></li>
<li><a class="t url" href="#" style="left:23.69px;top:362.30px;font-size:22.3px;color:#3b74c9;letter-spacing:0.095px;-webkit-text-stroke-width:0.22px;">/referrer-backlink-search-visitor-log-overhaul/</a><svg class="ic" style="left:611.0px;top:359.8px;width:26.2px;height:26.2px" viewBox="0 0 16 16"><use href="#i-page"/></svg><span class="t num" style="left:655.42px;top:361.60px;font-size:21.8px;color:#222;letter-spacing:-0.648px;-webkit-text-stroke-width:0.45px;">10</span><span class="t pct" style="left:706.10px;top:361.20px;font-size:18px;color:#6db562;transform:scaleX(0.8494);-webkit-text-stroke-width:0.12px;">+67%</span></li>
</ul></section>
<section class="card" id="recent" style="left:814px;top:512px;width:759px;height:361px">
<header><h2 class="g title"><span class="t w" style="left:12.77px;top:14.00px;font-size:39.6px;color:#333;letter-spacing:0.647px;-webkit-text-stroke-width:0.95px;">Recent</span> <span class="t w" style="left:155.25px;top:14.00px;font-size:39.6px;color:#333;letter-spacing:1.521px;-webkit-text-stroke-width:0.95px;">visitors</span></h2><nav><b class="t tab on" style="left:607.75px;top:20.00px;font-size:18.6px;color:#1c1c1c;letter-spacing:0.467px;-webkit-text-stroke-width:0.4px;">List</b><a class="g tab" href="#"><span class="t w" style="left:651.73px;top:20.00px;font-size:18.6px;color:#3b74c9;transform:scaleX(0.9481);-webkit-text-stroke-width:0.2px;">Most</span> <span class="t w" style="left:695.36px;top:20.00px;font-size:18.6px;color:#3b74c9;letter-spacing:0.294px;-webkit-text-stroke-width:0.2px;">active</span></a></nav></header>
<div class="dot" style="left:13.0px;top:56.2px;width:740.5px"></div>
<ul>
<li><span class="t time" style="left:20.81px;top:89.60px;font-size:21.2px;color:#222;letter-spacing:0.081px;-webkit-text-stroke-width:0.25px;">11:23a</span><svg class="ic" style="left:102.3px;top:91.1px;width:26.2px;height:18.1px" viewBox="0 0 16 11"><use href="#f-us"/></svg><a class="g name" href="#"><span class="t w" style="left:145.66px;top:89.60px;font-size:21.2px;color:#3b74c9;letter-spacing:0.288px;-webkit-text-stroke-width:0.22px;">T-mobile</span> <span class="t w" style="left:235.63px;top:89.60px;font-size:21.2px;color:#3b74c9;transform:scaleX(0.8848);-webkit-text-stroke-width:0.22px;">Usa</span></a><a class="t url" href="#" style="left:434.00px;top:89.60px;font-size:21.2px;color:#3b74c9;letter-spacing:-0.208px;-webkit-text-stroke-width:0.22px;">/big-update-for-trends-and-</a><span class="t ell" style="left:681.31px;top:89.60px;font-size:21.2px;color:#222;transform:scaleX(0.8813);-webkit-text-stroke-width:0.45px;">...</span><svg class="ic" style="left:718.6px;top:87.5px;width:26.2px;height:26.2px" viewBox="0 0 16 16"><use href="#i-page"/></svg><div class="sep" style="left:13.0px;top:128.7px;width:740.0px"></div></li>
<li><span class="t time" style="left:21.33px;top:145.55px;font-size:21.2px;color:#222;letter-spacing:-0.317px;-webkit-text-stroke-width:0.25px;">9:22a</span><svg class="ic" style="left:102.3px;top:147.1px;width:26.2px;height:18.1px" viewBox="0 0 16 11"><use href="#f-th"/></svg><a class="g name" href="#"><span class="t w" style="left:145.68px;top:145.55px;font-size:21.2px;color:#3b74c9;transform:scaleX(0.9105);-webkit-text-stroke-width:0.22px;">Ais</span> <span class="t w" style="left:178.88px;top:145.55px;font-size:21.2px;color:#3b74c9;letter-spacing:0.425px;-webkit-text-stroke-width:0.22px;">Fibre</span></a><a class="t url" href="#" style="left:434.00px;top:145.55px;font-size:21.2px;color:#3b74c9;transform:scaleX(0.9470);-webkit-text-stroke-width:0.22px;">/4-seasonal-marketing-stats</a><span class="t ell" style="left:681.31px;top:145.55px;font-size:21.2px;color:#222;transform:scaleX(0.8813);-webkit-text-stroke-width:0.45px;">...</span><svg class="ic" style="left:718.6px;top:143.5px;width:26.2px;height:26.2px" viewBox="0 0 16 16"><use href="#i-page"/></svg><div class="sep" style="left:13.0px;top:184.6px;width:740.0px"></div></li>
<li><span class="t time" style="left:21.48px;top:201.50px;font-size:21.2px;color:#222;letter-spacing:-0.353px;-webkit-text-stroke-width:0.25px;">8:55a</span><svg class="ic" style="left:102.3px;top:203.1px;width:26.2px;height:18.1px" viewBox="0 0 16 11"><use href="#f-hr"/></svg><a class="g name" href="#"><span class="t w" style="left:144.28px;top:201.50px;font-size:21.2px;color:#3b74c9;letter-spacing:0.458px;-webkit-text-stroke-width:0.22px;">Hrvatski</span> <span class="t w" style="left:229.87px;top:201.50px;font-size:21.2px;color:#3b74c9;letter-spacing:0.139px;-webkit-text-stroke-width:0.22px;">Telekom</span></a><a class="t url" href="#" style="left:536.52px;top:201.50px;font-size:21.2px;color:#3b74c9;letter-spacing:-0.039px;-webkit-text-stroke-width:0.22px;">/on-site-analytics/</a><svg class="ic" style="left:718.6px;top:199.5px;width:26.2px;height:26.2px" viewBox="0 0 16 16"><use href="#i-page"/></svg><div class="sep" style="left:13.0px;top:240.4px;width:740.0px"></div></li>
<li><span class="t time" style="left:21.30px;top:257.45px;font-size:21.2px;color:#222;letter-spacing:-0.310px;-webkit-text-stroke-width:0.25px;">7:43a</span><svg class="ic" style="left:102.3px;top:259.1px;width:26.2px;height:18.1px" viewBox="0 0 16 11"><use href="#f-mx"/></svg><a class="t name" href="#" style="left:145.59px;top:257.45px;font-size:21.2px;color:#3b74c9;letter-spacing:0.350px;-webkit-text-stroke-width:0.22px;">Totalplay</a><a class="t url" href="#" style="left:693.98px;top:257.45px;font-size:21.2px;color:#3b74c9;transform:scaleX(1.1359);-webkit-text-stroke-width:0.22px;">/</a><svg class="ic" style="left:718.6px;top:255.5px;width:26.2px;height:26.2px" viewBox="0 0 16 16"><use href="#i-page"/></svg><div class="sep" style="left:13.0px;top:296.2px;width:740.0px"></div></li>
<li><span class="t time" style="left:21.30px;top:313.40px;font-size:21.2px;color:#222;letter-spacing:-0.310px;-webkit-text-stroke-width:0.25px;">7:33a</span><svg class="ic" style="left:102.3px;top:315.1px;width:26.2px;height:18.1px" viewBox="0 0 16 11"><use href="#f-us"/></svg><a class="g name" href="#"><span class="t w" style="left:145.00px;top:313.40px;font-size:21.2px;color:#3b74c9;letter-spacing:-0.528px;-webkit-text-stroke-width:0.22px;">Comcast</span> <span class="t w" style="left:232.62px;top:313.40px;font-size:21.2px;color:#3b74c9;letter-spacing:-0.261px;-webkit-text-stroke-width:0.22px;">Cable</span></a><a class="t url" href="#" style="left:434.00px;top:313.40px;font-size:21.2px;color:#3b74c9;letter-spacing:-0.373px;-webkit-text-stroke-width:0.22px;">/large-date-range-queries-n</a><span class="t ell" style="left:681.31px;top:313.40px;font-size:21.2px;color:#222;transform:scaleX(0.8813);-webkit-text-stroke-width:0.45px;">...</span><svg class="ic" style="left:718.6px;top:311.5px;width:26.2px;height:26.2px" viewBox="0 0 16 16"><use href="#i-page"/></svg><div class="sep last" style="left:13.0px;top:352.1px;width:740.0px"></div></li>
</ul></section>
</main><div id="foot"></div></body></html>
